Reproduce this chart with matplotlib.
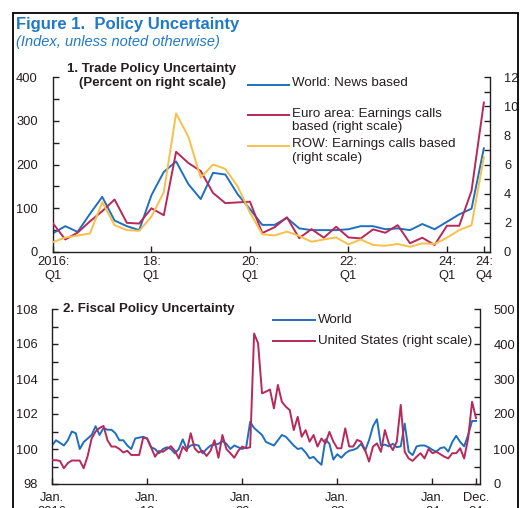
import matplotlib
matplotlib.use('Agg')
import matplotlib.pyplot as plt
from matplotlib.lines import Line2D
from matplotlib.patches import Rectangle
from matplotlib.ticker import MultipleLocator

plt.rcParams['font.family'] = ['Liberation Sans', 'DejaVu Sans']

# ---------------- data ----------------
# Panel 1: quarterly, 2016:Q1 .. 2024:Q4
trade_quarters = list(range(36))
trade_tick_pos = [0, 8, 16, 24, 32, 35]
trade_tick_labels = ["2016:\nQ1", "18:\nQ1", "20:\nQ1", "22:\nQ1", "24:\nQ1", "24:\nQ4"]
world_news = [43, 59, 46, 87, 126, 72, 59, 50, 130, 183, 207, 155, 121, 181, 177, 132,
              98, 62, 62, 78, 54, 50, 50, 50, 52, 59, 59, 52, 54, 50, 64, 52,
              69, 86, 99, 237]
euro_calls = [1.96, 0.86, 1.33, 2.1, 2.8, 3.6, 2.0, 1.95, 3.0, 2.52, 6.87, 6.1,
              5.55, 4.05, 3.35, 3.4, 3.45, 1.3, 1.7, 2.38, 0.95, 1.57, 0.98, 1.73,
              1.0, 0.93, 1.55, 1.32, 1.84, 0.6, 0.98, 0.48, 1.8, 1.8, 4.2, 10.25]
row_calls = [0.68, 0.99, 1.13, 1.27, 3.42, 1.84, 1.5, 1.45, 2.43, 4.1, 9.5, 7.9,
             5.1, 6.0, 5.7, 4.5, 2.7, 1.22, 1.13, 1.4, 1.1, 0.7, 0.86, 1.0,
             0.52, 0.86, 0.48, 0.43, 0.55, 0.36, 0.59, 0.55, 0.98, 1.5, 1.84, 6.5]

# Panel 2: monthly, Jan 2016 .. Dec 2024
fiscal_months = list(range(108))
fiscal_tick_pos = [0, 24, 48, 72, 96, 107]
fiscal_tick_labels = ["Jan.\n2016", "Jan.\n18", "Jan.\n20", "Jan.\n22", "Jan.\n24", "Dec.\n24"]
world_fiscal = [100.2, 100.5, 100.35, 100.2, 100.5, 101.0, 100.9, 100.0, 100.4, 100.6,
                100.8, 101.3, 100.8, 101.2, 101.1, 101.1, 100.9, 100.5, 100.5, 100.2,
                100.0, 100.6, 100.65, 100.7, 100.6, 100.1, 100.0, 99.75, 100.0, 100.1,
                100.0, 99.75, 100.0, 100.55, 100.0, 100.2, 100.25, 100.2, 99.75, 100.0,
                100.2, 100.25, 100.3, 100.45, 100.3, 100.0, 100.2, 100.1, 100.0, 100.1,
                101.55, 101.2, 101.0, 100.8, 100.4, 100.3, 100.2, 100.5, 100.8, 100.7,
                100.45, 100.2, 100.0, 100.05, 99.8, 99.47, 99.55, 99.3, 99.1, 100.55,
                100.3, 99.4, 99.7, 99.5, 99.75, 99.9, 99.95, 100.05, 100.3, 99.9,
                100.5, 101.3, 101.7, 100.2, 100.25, 100.15, 100.3, 100.1, 100.15, 101.45,
                99.85, 99.65, 100.15, 100.2, 100.2, 100.1, 99.95, 99.85, 100.05, 100.1,
                99.85, 100.4, 100.75, 100.4, 100.15, 100.8, 101.6, 101.6]
us_fiscal = [68, 68, 66, 45, 60, 67, 67, 67, 45, 80, 130, 150, 160, 166, 125, 107,
             107, 100, 90, 95, 83, 83, 83, 132, 130, 105, 78, 94, 92, 100, 108, 95,
             73, 107, 94, 145, 102, 90, 95, 80, 95, 125, 75, 140, 100, 88, 75, 95,
             107, 102,
             105, 430, 402, 259, 264, 270, 216, 283, 235, 221, 211, 154, 192, 135,
             154, 121, 140, 107, 130, 116, 149, 121, 102, 102, 159, 107, 107, 126,
             121, 97, 64, 107, 116, 92, 154, 116, 97, 121, 226, 92, 73, 66, 78, 88,
             73, 100, 88, 92, 85, 78, 73, 88, 88, 102, 73, 130, 235, 188]

# ---------------- style ----------------
BLUE = '#1F6FBF'
RED = '#B8285A'
YELLOW = '#F8BF4A'
TITLE_BLUE = '#2079C7'
TXT = '#231F20'
LW = 1.4

W, H = 520, 508
fig = plt.figure(figsize=(W / 100, H / 100), dpi=100)


def fx(px):
    return px / W


def fy(py):
    return 1 - py / H


def style_axes(ax, axr, lpad, rpad, xpad):
    for a in (ax, axr):
        a.spines['top'].set_visible(False)
        for s in a.spines.values():
            s.set_linewidth(1.0)
            s.set_color(TXT)
    ax.spines['right'].set_visible(False)
    axr.spines['left'].set_visible(False)
    axr.spines['bottom'].set_visible(False)
    ax.tick_params(axis='y', which='both', direction='in', length=4, width=1,
                   labelsize=9.3, pad=lpad, colors=TXT)
    axr.tick_params(axis='y', which='both', direction='in', length=4, width=1,
                    labelsize=9.3, pad=rpad, colors=TXT)
    ax.tick_params(axis='x', which='both', direction='in', length=4, width=1,
                   labelsize=9.3, pad=xpad, colors=TXT)


# ---------------- panel 1 ----------------
ax1 = fig.add_axes([fx(53), fy(252), fx(490) - fx(53), fy(77) - fy(252)])
ax1r = ax1.twinx()
ax1.plot(trade_quarters, world_news, color=BLUE, lw=LW)
ax1r.plot(trade_quarters, euro_calls, color=RED, lw=LW)
ax1r.plot(trade_quarters, row_calls, color=YELLOW, lw=LW)
ax1.set_xlim(0, 35.5)
ax1.set_ylim(0, 400)
ax1r.set_ylim(0, 12)
ax1.yaxis.set_major_locator(MultipleLocator(100))
ax1.yaxis.set_minor_locator(MultipleLocator(50))
ax1r.yaxis.set_major_locator(MultipleLocator(2))
ax1r.yaxis.set_minor_locator(MultipleLocator(1))
ax1.set_xticks(trade_tick_pos)
ax1.set_xticklabels(trade_tick_labels)
style_axes(ax1, ax1r, 11, 10, 3)

fig.text(fx(152), fy(76), "1. Trade Policy Uncertainty\n(Percent on right scale)",
         ha='center', va='center', fontsize=9.5, fontweight='bold', color=TXT,
         linespacing=1.2)

# legend panel 1
leg1 = [(BLUE, 85, "World: News based"),
        (RED, 115, "Euro area: Earnings calls\nbased (right scale)"),
        (YELLOW, 146, "ROW: Earnings calls based\n(right scale)")]
for col, ypx, lab in leg1:
    fig.add_artist(Line2D([fx(248), fx(289)], [fy(ypx), fy(ypx)], color=col, lw=LW,
                          transform=fig.transFigure))
    fig.text(fx(292), fy(ypx - 7.5), lab, ha='left', va='top', fontsize=9.6, color=TXT,
             linespacing=1.13)

# ---------------- panel 2 ----------------
ax2 = fig.add_axes([fx(52), fy(484), fx(480) - fx(52), fy(309) - fy(484)])
ax2r = ax2.twinx()
ax2.plot(fiscal_months, world_fiscal, color=BLUE, lw=LW)
ax2r.plot(fiscal_months, us_fiscal, color=RED, lw=LW)
ax2.set_xlim(0, 108)
ax2.set_ylim(98, 108)
ax2r.set_ylim(0, 500)
ax2.yaxis.set_major_locator(MultipleLocator(2))
ax2.yaxis.set_minor_locator(MultipleLocator(1))
ax2r.yaxis.set_major_locator(MultipleLocator(100))
ax2r.yaxis.set_minor_locator(MultipleLocator(50))
ax2.set_xticks(fiscal_tick_pos)
ax2.set_xticklabels(fiscal_tick_labels)
style_axes(ax2, ax2r, 10, 9.5, 6)

fig.text(fx(149), fy(309), "2. Fiscal Policy Uncertainty", ha='center', va='center',
         fontsize=9.5, fontweight='bold', color=TXT)

leg2 = [(BLUE, 320, "World"), (RED, 341, "United States (right scale)")]
for col, ypx, lab in leg2:
    fig.add_artist(Line2D([fx(273), fx(315)], [fy(ypx), fy(ypx)], color=col, lw=LW,
                          transform=fig.transFigure))
    fig.text(fx(318), fy(ypx), lab, ha='left', va='center', fontsize=9.6, color=TXT)

# ---------------- titles & frame ----------------
fig.text(fx(16), fy(24), "Figure 1.  Policy Uncertainty", ha='left', va='center',
         fontsize=12, fontweight='bold', color=TITLE_BLUE)
fig.text(fx(16), fy(42), "(Index, unless noted otherwise)", ha='left', va='center',
         fontsize=10.5, fontstyle='italic', color=TITLE_BLUE)

fig.add_artist(Rectangle((fx(13), -0.05), fx(518) - fx(13), fy(13) + 0.05,
                         transform=fig.transFigure, fill=False, lw=1.3, ec='black'))

fig.savefig('out.png', dpi=100)
